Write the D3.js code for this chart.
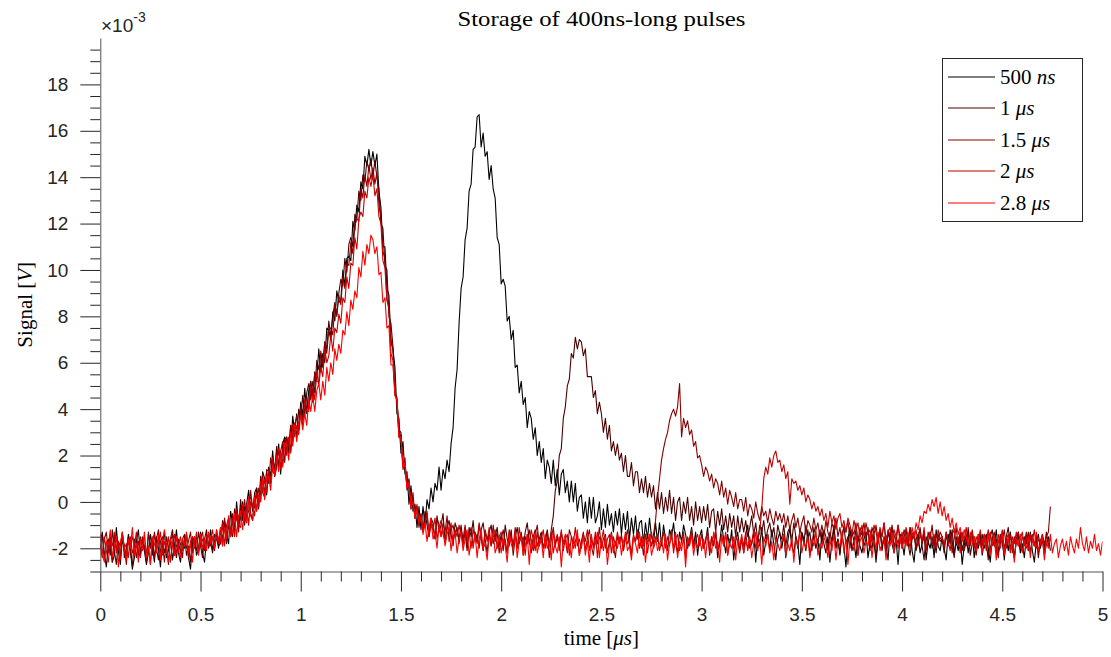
<!DOCTYPE html>
<html><head><meta charset="utf-8">
<script src="https://cdn.jsdelivr.net/npm/d3@7"></script>
<style>body{margin:0;background:#fff}svg{display:block}</style>
</head><body>
<svg id="chart" width="1111" height="657"></svg>
<script>
// Signal values in units of 1e-3 V, sampled every timeStep microseconds from t = 0
const timeStep = 0.01;
const seriesNames = ["500 ns", "1 µs", "1.5 µs", "2 µs", "2.8 µs"];
const seriesUnits = [["500 ", "ns"], ["1 ", "μs"], ["1.5 ", "μs"], ["2 ", "μs"], ["2.8 ", "μs"]];
const seriesColors = ["#000000", "#4d0000", "#8a0000", "#c40000", "#ff0000"];

const s500ns = [
-1.7,-1.3,-2.2,-2.8,-1.9,-1.5,-2.6,-2.3,-1.1,-2.1,-2.7,-1.6,-2.0,-2.5,-1.4,-1.8,-2.9,-2.4,-1.7,-1.2,
-2.3,-1.6,-2.1,-2.7,-2.2,-1.4,-1.9,-2.6,-1.5,-2.0,-2.8,-1.8,-1.3,-2.4,-2.1,-1.6,-2.5,-1.9,-1.2,-2.2,
-2.6,-1.7,-2.0,-1.4,-2.4,-2.9,-1.8,-1.5,-2.3,-2.0,-1.3,-2.2,-2.6,-1.6,-1.9,-1.2,-2.1,-1.7,-1.4,-2.0,
-1.1,-1.9,-0.8,-1.4,-1.8,-0.4,-0.9,-1.4,0.0,-1.0,-0.7,0.0,-1.0,-0.1,0.5,-0.5,-0.8,0.4,0.6,0.0,
0.1,1.3,1.0,0.3,1.5,1.1,2.2,1.1,1.6,2.5,1.2,2.5,2.8,2.2,2.7,2.2,3.7,3.0,3.8,3.1,
4.3,3.7,4.9,3.8,4.8,5.2,4.3,5.6,5.3,6.6,5.6,6.4,6.0,7.5,7.4,7.0,8.2,7.8,9.1,8.6,
8.7,10.0,9.3,10.5,10.6,10.4,12.1,11.7,12.8,12.5,13.8,13.5,14.9,14.5,15.2,14.5,15.1,14.5,15.0,13.4,
12.7,11.0,11.0,9.2,8.9,6.9,6.6,5.8,3.8,3.6,2.1,2.6,1.2,1.3,-0.1,0.7,-0.4,-0.1,-1.1,-0.2,
-1.2,-0.2,-1.0,0.1,-0.3,0.6,0.0,0.8,0.5,1.5,0.5,1.4,1.0,1.8,1.3,2.5,3.2,4.9,5.7,7.7,
9.2,9.7,11.3,11.8,13.4,13.7,15.2,15.3,16.6,16.7,15.3,15.9,14.9,15.1,13.9,14.5,13.5,13.1,11.4,11.1,
9.4,9.6,9.3,7.8,8.0,7.0,7.4,5.8,5.9,4.7,5.2,4.2,4.5,3.2,3.9,3.6,2.7,3.2,2.0,2.6,
1.7,2.3,1.0,1.8,1.5,0.8,1.8,0.7,1.4,0.3,1.2,1.4,0.4,0.9,0.0,0.9,0.0,0.8,-0.4,0.2,
0.3,-0.7,0.0,-0.9,0.2,-0.7,0.2,-0.9,-0.6,0.0,-1.2,-0.3,-1.1,-0.1,-1.0,-0.5,-1.3,-0.4,-1.0,-0.3,
-1.4,-0.5,-1.2,-0.4,-1.6,-0.7,-1.4,-0.6,-1.6,-0.9,-0.8,-1.8,-0.9,-1.6,-0.7,-1.5,-1.8,-0.9,-1.7,-0.9,
-1.9,-1.0,-1.6,-2.1,-1.2,-1.5,-0.9,-1.8,-2.2,-1.3,-1.7,-1.0,-1.4,-2.0,-1.6,-1.1,-1.9,-1.3,-2.3,-1.5,
-1.2,-2.0,-1.7,-1.1,-2.3,-1.5,-1.9,-1.3,-2.4,-1.8,-1.0,-1.6,-2.2,-1.4,-1.9,-1.2,-2.5,-1.7,-1.3,-2.1,
-1.6,-2.2,-1.4,-1.0,-2.0,-1.8,-1.3,-2.6,-1.5,-1.9,-1.1,-2.3,-1.7,-1.4,-2.1,-1.2,-1.8,-2.5,-1.6,-1.3,
-2.0,-1.4,-2.4,-1.7,-1.1,-1.9,-2.2,-1.5,-1.8,-2.7,-1.3,-1.6,-2.1,-1.2,-2.3,-1.9,-1.4,-2.0,-1.6,-2.5,
-1.3,-1.8,-2.2,-1.5,-2.6,-1.7,-1.2,-2.0,-1.6,-2.3,-1.4,-1.9,-2.8,-1.6,-1.1,-2.1,-1.7,-2.4,-1.5,-1.9,
-2.2,-1.6,-1.3,-2.4,-1.8,-2.0,-1.4,-2.6,-1.7,-1.2,-2.1,-1.5,-1.9,-2.5,-1.3,-1.8,-2.2,-1.6,-2.7,-1.4,
-1.7,-2.3,-1.5,-1.9,-1.1,-2.1,-2.6,-1.6,-1.4,-2.2,-1.8,-1.3,-2.5,-1.7,-2.0,-1.5,-2.4,-1.2,-1.9,-2.1,
-1.5,-2.0,-2.5,-1.4,-1.8,-1.2,-2.3,-1.7,-2.1,-1.5,-2.7,-1.9,-1.4,-2.2,-1.6,-1.3,-2.4,-1.8,-2.0,-1.4,
-2.3,-1.7,-1.4,-2.0,-2.6,-1.5,-1.9,-1.2,-2.2,-1.8,-1.5,-2.5,-1.6,-2.1,-1.3,-1.9,-2.4,-1.7,-1.4,-2.2,
-1.8,-2.4,-1.5,-1.9,-1.3,-2.1,-2.6,-1.7,-1.4,-2.0,-1.6,-2.3,-1.8,-1.5,-2.1];

const s1us = [
-2.0,-1.4,-2.5,-1.8,-1.6,-2.3,-1.2,-2.1,-2.7,-1.7,-1.9,-1.3,-2.4,-2.0,-1.5,-2.2,-2.8,-1.6,-1.8,-2.3,
-1.5,-2.1,-1.9,-2.6,-1.4,-1.8,-2.3,-1.3,-2.0,-2.5,-1.7,-1.5,-2.2,-1.8,-2.7,-1.6,-1.2,-2.0,-2.4,-1.7,
-2.2,-1.6,-1.4,-2.3,-1.9,-2.6,-1.5,-1.8,-2.1,-1.3,-1.9,-2.4,-1.6,-1.2,-2.0,-1.7,-2.2,-1.4,-1.6,-1.9,
-1.8,-0.8,-1.1,-1.8,-0.7,-1.2,-1.5,-0.3,-0.7,-1.1,0.1,-0.8,-0.2,-0.9,0.2,0.2,-0.4,-0.2,0.6,-0.3,
1.1,0.4,0.2,1.4,1.3,0.8,1.9,1.4,2.4,1.5,2.1,1.6,2.7,2.8,2.1,3.3,2.7,3.4,2.8,4.0,
3.6,4.6,3.7,4.7,5.1,4.4,5.2,4.7,6.1,5.7,6.4,5.8,6.9,6.6,7.8,7.1,8.0,8.6,8.0,9.0,
9.6,9.3,10.5,9.9,11.1,11.4,11.0,12.4,12.2,13.4,13.0,14.1,13.8,14.7,14.3,14.8,14.0,14.7,14.0,13.5,
12.0,11.8,10.2,10.0,8.0,7.7,6.7,4.7,4.5,3.1,3.0,1.6,1.6,0.7,1.0,-0.3,0.2,-0.7,-0.2,-0.9,
-0.5,-1.2,-0.4,-1.0,-1.5,-0.7,-0.9,-1.6,-0.6,-1.3,-1.0,-0.5,-1.7,-1.1,-0.8,-1.4,-1.9,-0.9,-1.2,-1.6,
-1.0,-1.8,-1.3,-2.1,-1.1,-1.5,-0.8,-1.7,-1.4,-2.0,-1.2,-0.9,-1.6,-2.2,-1.3,-1.0,-1.8,-1.5,-1.1,-1.9,
-1.4,-2.1,-1.0,-1.6,-1.9,-1.2,-2.3,-1.5,-1.1,-1.8,-1.4,-2.0,-1.3,-0.9,-1.7,-2.2,-1.5,-1.2,-1.9,-1.6,
-1.3,-2.0,-1.6,-1.2,-1.9,-1.2,-0.6,0.5,0.9,2.0,2.3,3.6,4.1,5.0,5.3,6.4,6.2,7.1,6.6,7.0,
6.9,6.3,6.6,5.4,5.4,5.4,4.5,4.8,3.8,4.3,3.8,3.0,3.6,2.7,3.3,2.2,2.6,2.0,2.5,1.8,
2.1,1.3,2.0,1.1,1.1,1.7,0.7,1.3,1.3,0.4,1.0,0.4,1.1,0.2,0.8,0.2,0.7,-0.3,0.4,-0.3,
0.4,-0.5,0.2,-0.4,0.5,-0.5,0.2,-0.8,0.0,0.2,-0.8,0.0,-0.5,0.2,-0.8,-0.2,-1.0,0.0,-0.8,-0.2,
-0.9,-0.2,-0.8,-0.1,-1.1,-0.4,-0.3,-1.3,-0.4,-1.0,-0.3,-1.2,-0.6,-1.3,-0.5,-1.1,-0.6,-1.5,-0.6,-1.3,
-0.7,-1.3,-0.8,-1.5,-1.1,-0.6,-1.4,-0.9,-1.7,-1.0,-1.3,-0.8,-1.6,-1.2,-0.9,-1.5,-1.1,-1.8,-1.0,-1.4,
-1.6,-1.0,-1.9,-1.3,-1.1,-1.7,-0.9,-1.5,-2.0,-1.2,-1.4,-1.8,-1.0,-1.6,-1.3,-2.1,-1.1,-1.5,-1.7,-1.2,
-1.8,-1.2,-1.5,-2.1,-1.3,-1.7,-1.0,-1.9,-1.6,-2.2,-1.4,-1.1,-1.8,-1.5,-2.0,-1.3,-1.7,-1.2,-2.3,-1.5,
-1.3,-1.9,-1.6,-1.1,-2.1,-1.4,-1.8,-2.4,-1.5,-1.2,-1.9,-1.6,-2.2,-1.3,-1.7,-1.0,-2.0,-1.5,-1.8,-1.4,
-2.0,-1.5,-1.2,-1.8,-2.3,-1.6,-1.4,-2.1,-1.7,-1.1,-1.9,-2.5,-1.5,-1.8,-1.3,-2.0,-1.6,-2.2,-1.4,-1.7,
-1.6,-2.2,-1.4,-1.9,-1.2,-1.7,-2.4,-1.5,-1.8,-1.3,-2.1,-1.6,-1.9,-1.1,-2.3,-1.8,-1.5,-2.0,-1.4,-1.9,
-1.4,-2.0,-1.7,-2.5,-1.5,-1.2,-1.9,-1.6,-2.2,-1.4,-1.8,-2.3,-1.5,-1.1,-2.0,-1.7,-2.4,-1.6,-1.3,-1.9,
-2.1,-1.5,-1.8,-1.3,-2.2,-1.6,-1.9,-1.4,-2.4,-1.7,-1.5,-2.0,-1.3,-1.9,-1.6];

const s1p5us = [
-1.9,-2.4,-1.6,-1.3,-2.2,-1.8,-2.6,-1.5,-2.0,-1.7,-2.3,-1.4,-1.9,-2.7,-1.6,-2.1,-1.5,-1.8,-2.4,-1.7,
-2.1,-1.5,-1.9,-2.5,-1.3,-2.0,-1.7,-2.4,-1.6,-1.2,-2.2,-1.8,-2.6,-1.5,-2.0,-1.7,-1.4,-2.3,-1.9,-1.6,
-1.8,-2.4,-1.5,-2.0,-1.7,-1.3,-2.2,-1.9,-1.5,-2.1,-1.6,-1.3,-2.0,-1.7,-1.4,-1.9,-1.5,-2.1,-1.2,-1.7,
-1.2,-1.6,-0.7,-1.7,-1.0,-1.4,-0.5,-1.1,-0.5,-1.3,-0.2,-0.6,0.1,-0.7,-0.4,0.5,-0.3,0.3,-0.4,0.6,
0.3,1.2,0.3,1.3,0.8,1.9,1.3,1.2,2.2,1.6,2.2,2.6,1.7,2.8,2.4,3.3,2.6,3.3,3.7,3.1,
4.1,3.5,4.4,4.5,4.0,5.2,4.6,5.6,5.2,5.2,6.5,5.9,6.9,6.4,7.4,7.5,7.2,8.5,8.1,8.9,
8.5,9.7,9.2,10.3,10.2,11.2,10.7,11.9,12.2,12.1,13.5,13.1,14.1,13.6,14.5,13.9,14.4,13.7,14.2,12.8,
12.3,10.8,10.5,8.7,8.5,7.0,6.6,4.7,4.4,2.8,2.9,1.6,1.9,0.5,0.7,-0.2,0.4,-0.7,-0.2,-1.1,
-0.6,-1.2,-0.9,-0.4,-1.4,-0.8,-1.1,-1.6,-0.7,-1.0,-1.5,-0.9,-1.3,-0.6,-1.7,-1.2,-1.0,-1.5,-1.1,-1.8,
-1.2,-1.6,-1.0,-1.9,-1.4,-1.1,-2.0,-1.3,-1.7,-0.9,-1.5,-2.1,-1.2,-1.6,-1.4,-1.9,-1.0,-1.7,-1.3,-2.2,
-1.6,-1.2,-1.8,-2.2,-1.3,-1.5,-1.9,-1.1,-2.0,-1.6,-1.3,-2.3,-1.5,-1.8,-1.2,-1.7,-2.1,-1.4,-1.0,-1.9,
-1.4,-2.0,-1.7,-1.3,-2.4,-1.6,-1.1,-1.9,-1.5,-2.1,-1.3,-1.8,-1.6,-2.2,-1.2,-1.5,-2.0,-1.7,-1.4,-2.3,
-1.7,-1.3,-2.1,-1.6,-1.2,-1.9,-2.3,-1.5,-1.8,-1.1,-2.0,-1.6,-1.4,-2.2,-1.7,-1.3,-1.9,-2.4,-1.5,-1.8,
-1.4,-2.1,-1.6,-1.2,-1.9,-2.2,-1.5,-1.7,-1.3,-2.0,-1.6,-2.3,-1.4,-1.8,-1.5,-1.9,-1.4,-0.8,0.2,1.0,
1.8,2.3,2.7,3.0,3.5,3.8,4.0,3.7,4.1,5.1,2.8,3.6,3.2,3.5,2.9,3.1,2.4,2.6,1.9,2.0,
1.6,1.1,1.5,1.3,0.9,1.2,0.6,1.0,0.8,0.3,0.9,0.2,0.6,-0.1,0.5,0.2,-0.2,0.4,-0.3,0.1,
0.1,-0.4,0.2,-0.6,-0.1,-0.3,-0.7,0.0,-0.5,-0.8,-0.2,-0.6,-0.4,-0.9,-0.3,-0.7,-1.0,-0.4,-0.8,-0.5,
-0.9,-0.5,-1.1,-0.6,-1.2,-0.8,-0.5,-1.1,-0.7,-1.3,-0.9,-0.6,-1.4,-0.8,-1.0,-1.3,-0.7,-1.2,-0.9,-1.5,
-1.0,-1.5,-0.8,-1.3,-1.6,-0.9,-1.2,-0.7,-1.5,-1.1,-1.7,-1.0,-1.3,-0.8,-1.6,-1.2,-1.4,-0.9,-1.7,-1.1,
-1.4,-0.9,-1.6,-1.2,-1.8,-1.1,-1.4,-1.0,-1.7,-1.3,-1.5,-0.9,-1.9,-1.2,-1.6,-1.1,-1.4,-1.8,-1.0,-1.5,
-1.7,-1.2,-1.5,-1.9,-1.1,-1.6,-1.3,-2.0,-1.4,-1.2,-1.8,-1.5,-2.1,-1.3,-1.6,-1.0,-1.9,-1.4,-1.7,-1.3,
-1.5,-2.0,-1.3,-1.7,-1.4,-2.2,-1.6,-1.1,-1.9,-1.5,-1.3,-2.1,-1.7,-1.4,-1.9,-1.2,-1.8,-2.3,-1.5,-1.6,
-1.9,-1.4,-1.7,-1.2,-2.1,-1.6,-1.3,-1.9,-2.4,-1.5,-1.7,-1.2,-2.0,-1.6,-1.4,-2.2,-1.5,-1.8,-1.3,-2.0,
-1.5,-1.8,-1.3,-2.1,-1.6,-1.4,-1.9,-1.5,-2.2,-1.7,-1.4,-1.8,-1.5,-1.3,-0.2];

const s2us = [
-1.8,-2.3,-1.5,-2.1,-2.6,-1.6,-1.9,-1.3,-2.2,-1.7,-2.5,-1.4,-2.0,-1.8,-2.4,-1.5,-2.2,-1.9,-1.3,-2.1,
-2.4,-1.7,-1.5,-2.2,-1.9,-2.7,-1.6,-1.4,-2.1,-1.8,-1.3,-2.3,-1.7,-2.0,-1.5,-2.6,-1.8,-1.4,-2.2,-1.9,
-1.5,-2.1,-1.8,-1.4,-2.4,-1.7,-1.5,-2.0,-1.3,-2.2,-1.8,-1.6,-2.1,-1.4,-1.9,-1.6,-1.2,-2.0,-1.5,-1.8,
-1.7,-0.9,-1.9,-1.0,-0.7,-1.5,-0.7,-1.5,-0.3,-1.0,-1.1,-0.1,-0.9,-0.1,-1.0,0.0,-0.1,-0.6,0.4,-0.2,
0.9,0.4,1.0,0.4,1.4,0.9,1.9,1.1,1.5,2.3,1.4,2.3,2.6,2.0,2.8,2.1,3.3,2.8,3.3,2.9,
3.8,3.3,4.4,3.9,3.9,4.9,4.9,4.4,5.6,5.0,5.8,5.4,6.6,6.0,6.3,7.2,6.5,7.5,7.3,8.1,
7.7,8.8,8.6,9.7,9.2,10.3,10.2,11.4,10.9,12.2,12.5,12.3,13.4,13.1,14.0,13.6,14.1,13.2,13.5,12.3,
12.0,10.4,10.1,8.7,8.3,6.4,6.1,4.6,4.4,2.8,2.7,1.4,1.6,0.6,0.9,-0.2,0.0,-0.6,-0.1,-1.0,
-0.7,-1.3,-0.9,-0.5,-1.5,-1.0,-1.2,-0.7,-1.6,-1.1,-0.8,-1.4,-1.7,-1.0,-1.3,-0.9,-1.8,-1.2,-1.5,-1.0,
-1.4,-1.9,-1.1,-1.6,-1.3,-2.0,-1.2,-1.5,-1.8,-1.0,-1.6,-2.1,-1.3,-1.7,-1.1,-1.9,-1.4,-1.2,-2.0,-1.5,
-1.3,-1.8,-1.6,-2.2,-1.2,-1.5,-1.9,-1.4,-2.0,-1.1,-1.7,-1.5,-2.3,-1.4,-1.8,-1.2,-1.6,-2.1,-1.3,-1.9,
-1.6,-1.2,-2.0,-1.5,-1.8,-1.3,-2.2,-1.7,-1.4,-1.9,-1.2,-2.1,-1.6,-1.4,-2.3,-1.5,-1.8,-1.1,-1.9,-1.6,
-2.0,-1.4,-1.7,-1.2,-2.1,-1.6,-1.9,-1.3,-2.4,-1.5,-1.7,-1.2,-2.0,-1.6,-1.4,-2.2,-1.5,-1.9,-1.3,-1.8,
-1.5,-2.1,-1.3,-1.8,-1.6,-2.3,-1.4,-1.7,-1.2,-2.0,-1.5,-1.9,-1.4,-2.2,-1.6,-1.3,-2.0,-1.7,-1.4,-2.1,
-1.7,-1.3,-2.0,-1.5,-1.9,-1.2,-2.2,-1.6,-1.4,-2.1,-1.7,-1.3,-2.4,-1.5,-1.8,-1.2,-2.0,-1.6,-1.4,-1.9,
-1.4,-2.0,-1.6,-1.3,-2.2,-1.5,-1.8,-1.2,-2.1,-1.7,-1.4,-1.9,-1.3,-2.3,-1.6,-1.5,-2.0,-1.4,-1.7,-2.2,
-1.5,-1.9,-1.3,-2.1,-1.6,-1.8,-1.2,-2.0,-1.6,-1.3,-0.3,1.0,1.5,1.2,1.9,1.5,2.0,2.2,1.7,1.8,
1.3,1.6,1.0,1.3,-0.1,1.0,0.8,0.9,0.5,0.7,0.3,0.6,0.0,0.3,0.1,-0.3,0.0,-0.4,-0.2,-0.6,
-0.3,-0.8,-0.5,-1.1,-0.4,-0.9,-0.6,-1.2,-0.7,-0.5,-1.1,-0.8,-1.3,-0.7,-1.0,-1.4,-0.8,-1.2,-0.9,-1.5,
-1.0,-1.5,-0.9,-1.4,-1.2,-1.7,-1.0,-1.3,-1.8,-1.1,-1.5,-0.9,-1.6,-1.3,-1.1,-1.7,-1.2,-1.5,-1.0,-1.8,
-1.3,-1.8,-1.1,-1.5,-2.0,-1.3,-1.6,-1.2,-1.9,-1.4,-1.7,-1.1,-2.1,-1.5,-1.3,-1.8,-1.4,-2.0,-1.2,-1.6,
-1.5,-1.9,-1.3,-1.7,-2.1,-1.4,-1.2,-1.8,-1.5,-2.2,-1.4,-1.6,-1.1,-1.9,-1.7,-1.3,-2.0,-1.5,-1.8,-1.2,
-1.8,-1.4,-2.1,-1.6,-1.3,-1.9,-1.5,-2.3,-1.4,-1.7,-1.2,-2.0,-1.6,-1.4,-2.2,-1.5,-1.8,-1.3,-1.9,-1.6,
-1.3,-1.9,-1.5,-2.1,-1.4,-1.7,-1.2,-2.0,-1.6,-1.8,-1.4,-2.2,-1.5,-1.7,-1.6];

const s2p8us = [
-1.4,-2.2,-2.6,-1.7,-1.9,-1.2,-2.4,-2.0,-1.5,-2.8,-1.8,-1.3,-2.1,-2.5,-1.6,-2.0,-1.1,-2.3,-1.8,-2.6,
-1.6,-2.1,-1.3,-2.4,-1.9,-2.7,-1.5,-1.8,-2.2,-1.4,-2.5,-1.7,-1.2,-2.0,-2.6,-1.6,-1.9,-2.3,-1.5,-2.1,
-2.4,-1.6,-1.9,-1.3,-2.2,-1.8,-2.6,-1.5,-1.7,-2.3,-1.4,-2.0,-1.6,-2.1,-1.3,-1.8,-1.5,-2.0,-1.2,-1.7,
-1.1,-1.9,-1.1,-1.6,-0.6,-1.5,-1.3,-0.5,-1.5,-0.6,-0.4,-1.2,-0.4,-0.9,0.2,-0.6,-0.8,0.2,-0.4,0.3,
0.0,1.0,0.1,1.1,1.1,0.5,1.6,1.2,2.0,1.3,2.1,1.5,2.5,2.5,1.8,3.0,2.4,3.4,2.6,3.4,
3.7,3.1,3.8,3.3,4.4,3.9,4.6,3.9,4.8,5.1,4.4,5.2,4.6,5.8,5.2,6.0,5.5,6.6,6.1,6.8,
6.4,7.4,7.2,8.2,7.6,8.7,8.3,9.1,8.8,10.1,9.7,10.8,10.2,11.1,10.7,11.5,11.3,10.7,11.0,9.8,
9.9,8.6,8.8,7.5,7.6,5.9,5.9,4.6,4.4,2.8,2.8,1.5,1.7,0.6,0.8,-0.3,0.0,-0.7,-0.3,-0.9,
-0.6,-1.4,-0.9,-1.7,-1.1,-0.7,-1.6,-1.3,-2.0,-1.0,-1.5,-1.2,-1.9,-1.4,-1.1,-2.1,-1.5,-1.3,-2.2,-1.6,
-1.3,-2.1,-1.6,-1.2,-2.3,-1.7,-1.9,-1.4,-2.4,-1.6,-1.2,-2.0,-1.8,-2.5,-1.5,-1.7,-1.3,-2.2,-1.9,-1.5,
-2.2,-1.6,-1.9,-2.6,-1.4,-1.8,-2.1,-1.3,-2.4,-1.7,-1.5,-2.3,-1.9,-1.4,-2.7,-1.6,-2.0,-1.3,-2.2,-1.8,
-1.6,-2.4,-1.4,-2.0,-1.7,-2.5,-1.3,-1.9,-2.2,-1.5,-2.8,-1.7,-1.4,-2.1,-1.8,-2.4,-1.5,-2.0,-1.2,-2.3,
-1.9,-1.5,-2.3,-1.7,-2.6,-1.4,-2.0,-1.8,-1.3,-2.4,-1.6,-2.1,-1.5,-2.7,-1.9,-1.4,-2.2,-1.7,-2.0,-1.5,
-2.3,-1.7,-1.4,-2.1,-1.9,-2.5,-1.5,-1.8,-2.2,-1.3,-2.0,-1.6,-2.6,-1.7,-1.4,-2.3,-1.9,-1.5,-2.1,-1.8,
-1.6,-2.2,-1.4,-2.5,-1.8,-1.5,-2.0,-1.3,-2.4,-1.7,-2.1,-1.5,-2.8,-1.6,-1.9,-1.4,-2.3,-1.7,-2.0,-1.5,
-2.1,-1.6,-2.4,-1.5,-1.8,-2.2,-1.3,-2.0,-1.7,-2.6,-1.5,-1.9,-1.4,-2.3,-1.8,-2.0,-1.5,-2.5,-1.6,-1.9,
-1.4,-2.2,-1.7,-2.0,-1.5,-2.4,-1.8,-1.3,-2.1,-1.6,-2.7,-1.5,-1.9,-1.4,-2.2,-1.7,-2.5,-1.6,-1.8,-2.1,
-1.7,-1.4,-2.3,-1.8,-2.1,-1.5,-2.6,-1.6,-1.9,-1.3,-2.2,-1.7,-2.0,-1.5,-2.4,-1.6,-1.9,-1.2,-2.3,-1.8,
-2.0,-1.5,-1.8,-2.4,-1.6,-2.1,-1.4,-2.5,-1.7,-1.9,-1.3,-2.2,-1.6,-2.7,-1.5,-1.8,-2.1,-1.4,-2.3,-1.7,
-1.5,-2.2,-1.7,-1.9,-1.4,-2.4,-1.6,-2.0,-1.3,-2.1,-1.8,-1.5,-2.5,-1.7,-1.9,-1.4,-2.2,-1.6,-2.0,-1.5,
-2.0,-1.5,-1.9,-1.3,-1.7,-1.1,-1.5,-0.9,-1.2,-0.6,-0.9,-0.4,-0.5,-0.1,-0.4,0.1,-0.2,0.2,-0.5,0.0,
-0.6,-0.2,-0.8,-0.5,-1.1,-0.7,-1.3,-0.9,-1.4,-1.1,-1.7,-1.2,-1.5,-1.9,-1.3,-1.8,-1.5,-2.1,-1.4,-1.8,
-2.2,-1.5,-1.9,-1.3,-2.3,-1.7,-1.5,-2.5,-1.6,-2.0,-1.4,-2.3,-1.8,-1.5,-2.1,-1.7,-2.6,-1.6,-1.9,-1.4,
-2.2,-1.7,-2.0,-1.5,-2.4,-1.6,-1.9,-1.3,-2.1,-1.8,-1.5,-2.5,-1.7,-2.0,-1.4,-2.2,-1.8,-1.6,-2.4,-1.9,
-1.6,-2.1,-1.7,-2.3,-1.5,-1.9,-2.2,-1.6,-2.0,-1.1,-1.8,-2.1,-1.5,-2.2,-1.7,-2.0,-1.4,-2.1,-1.8,-2.3,
-1.7];

const seriesValues = [s500ns, s1us, s1p5us, s2us, s2p8us];

const xTicks = [0, 0.5, 1, 1.5, 2, 2.5, 3, 3.5, 4, 4.5, 5];
const xTickLabels = ["0", "0.5", "1", "1.5", "2", "2.5", "3", "3.5", "4", "4.5", "5"];
const yTicks = [-2, 0, 2, 4, 6, 8, 10, 12, 14, 16, 18];
const yTickLabels = ["-2", "0", "2", "4", "6", "8", "10", "12", "14", "16", "18"];
const xDomain = [0, 5];
const yDomain = [-3, 20];

const svg = d3.select("#chart");
const L = 100.3, R = 1102.5, T = 38, B = 571.5;
const x = d3.scaleLinear().domain(xDomain).range([L, R]);
const y = d3.scaleLinear().domain(yDomain).range([B, T]);
const sansFont = "'Liberation Sans', Arial, Helvetica, sans-serif";
const serifFont = "'Liberation Serif', 'Times New Roman', serif";
const axisCol = "#262626";

// data lines
svg.append("clipPath").attr("id", "pc").append("rect")
  .attr("x", L).attr("y", T).attr("width", R - L).attr("height", B - T);
const line = d3.line().x((d, i) => x(i * timeStep)).y(d => y(d));
const gLines = svg.append("g").attr("clip-path", "url(#pc)");
seriesValues.forEach((vals, k) => {
  gLines.append("path").datum(vals).attr("d", line)
    .attr("fill", "none").attr("stroke", seriesColors[k])
    .attr("stroke-width", 1.1).attr("stroke-linejoin", "round");
});

// axes (ticks pointing outward)
const xAxis = d3.axisBottom(x).tickValues(xTicks).tickFormat((d, i) => xTickLabels[i])
  .tickSizeInner(20).tickSizeOuter(0).tickPadding(16);
const gx = svg.append("g").attr("transform", `translate(0,${B})`).call(xAxis);
const xMinor = d3.axisBottom(x).tickValues(d3.range(0, 51).map(v => v / 10).filter(v => Math.round(v * 10) % 5 !== 0))
  .tickSize(10).tickFormat("");
const gxm = svg.append("g").attr("transform", `translate(0,${B})`).call(xMinor);
gxm.select(".domain").remove();

const yAxis = d3.axisLeft(y).tickValues(yTicks).tickFormat((d, i) => yTickLabels[i])
  .tickSizeInner(20).tickSizeOuter(0).tickPadding(12);
const gy = svg.append("g").attr("transform", `translate(${L},0)`).call(yAxis);
const yMinor = d3.axisLeft(y).tickValues(d3.range(-6, 41).map(v => v / 2).filter(v => v % 2 !== 0))
  .tickSize(10).tickFormat("");
const gym = svg.append("g").attr("transform", `translate(${L},0)`).call(yMinor);
gym.select(".domain").remove();

[gx, gxm, gy, gym].forEach(g => {
  g.selectAll("line").attr("stroke", axisCol).attr("stroke-width", 1);
  g.selectAll(".domain").attr("stroke", "#555").attr("stroke-width", 1);
  g.selectAll("text").attr("fill", axisCol).attr("font-family", sansFont).attr("font-size", 19);
});

// exponent label
const ex = svg.append("text").attr("x", 101).attr("y", 32).attr("fill", axisCol)
  .attr("font-family", sansFont).attr("font-size", 19);
ex.append("tspan").text("×10");
ex.append("tspan").attr("font-size", 14).attr("dy", -10).text("-3");

// title
svg.append("text").attr("x", (L + R) / 2).attr("y", 26).attr("text-anchor", "middle")
  .attr("font-family", serifFont).attr("font-size", 21).attr("fill", "#000")
  .attr("textLength", 288).attr("lengthAdjust", "spacingAndGlyphs")
  .text("Storage of 400ns-long pulses");

// x label
const xl = svg.append("text").attr("x", (L + R) / 2).attr("y", 645).attr("text-anchor", "middle")
  .attr("font-family", serifFont).attr("font-size", 21).attr("fill", "#000");
xl.append("tspan").text("time [");
xl.append("tspan").attr("font-style", "italic").text("μs");
xl.append("tspan").text("]");

// y label
const yl = svg.append("text").attr("transform", `translate(32,${(T + B) / 2}) rotate(-90)`)
  .attr("text-anchor", "middle").attr("font-family", serifFont).attr("font-size", 21).attr("fill", "#000");
yl.append("tspan").text("Signal [");
yl.append("tspan").attr("font-style", "italic").text("V");
yl.append("tspan").text("]");

// legend
const lg = svg.append("g");
lg.append("rect").attr("x", 942.5).attr("y", 58.5).attr("width", 140).attr("height", 163)
  .attr("fill", "#fff").attr("stroke", axisCol).attr("stroke-width", 1);
seriesNames.forEach((name, k) => {
  const cy = Math.round(76.5 + k * 31.5);
  lg.append("line").attr("x1", 948).attr("x2", 995).attr("y1", cy).attr("y2", cy)
    .attr("stroke", seriesColors[k]).attr("stroke-width", 1.2);
  const t = lg.append("text").attr("x", 1000).attr("y", cy + 7)
    .attr("font-family", serifFont).attr("font-size", 21).attr("fill", "#000");
  t.append("tspan").text(seriesUnits[k][0]);
  t.append("tspan").attr("font-style", "italic").text(seriesUnits[k][1]);
});
</script>
</body></html>
